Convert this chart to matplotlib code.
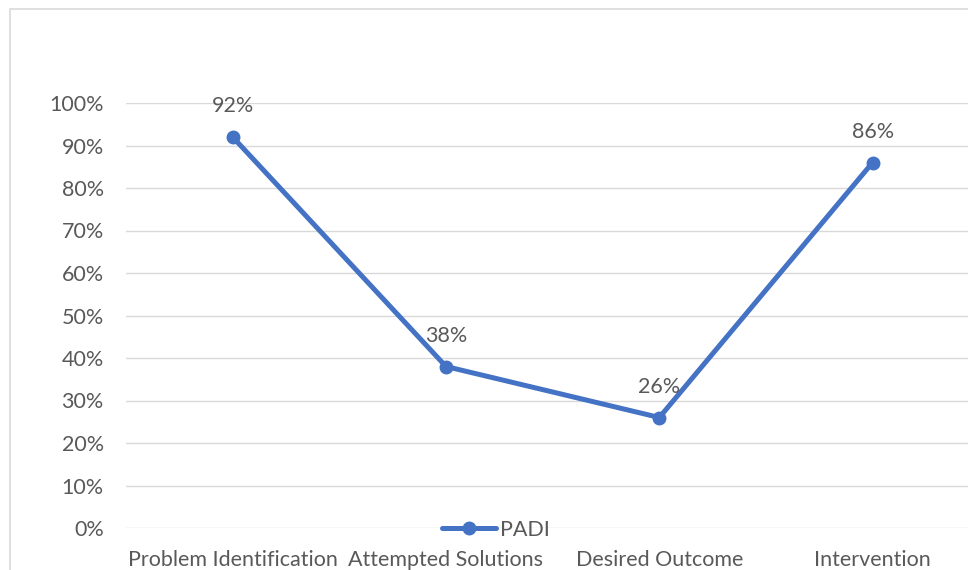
import matplotlib.pyplot as plt
from matplotlib.patches import Rectangle

# PADI scores per stage
stages = ["Problem Identification", "Attempted Solutions", "Desired Outcome", "Intervention"]
padi = [92, 38, 26, 86]
labels = ["92%", "38%", "26%", "86%"]
yticks = [0, 10, 20, 30, 40, 50, 60, 70, 80, 90, 100]

plt.rcParams['font.family'] = ['Lato', 'DejaVu Sans']
grey = "#595959"
blue = "#4472C4"
fs = 15.5

fig = plt.figure(figsize=(9.68, 5.7), dpi=100)

# chart area border
fig.patches.append(Rectangle((10 / 968, -0.1), 1.1, (570 - 9) / 570 + 0.1,
                             transform=fig.transFigure, fill=False,
                             edgecolor="#D9D9D9", linewidth=1.2))

ax = fig.add_axes([126 / 968, 42 / 570, 853.3 / 968, 425 / 570])
x = list(range(len(stages)))
ax.plot(x, padi, color=blue, linewidth=3.6, marker="o", markersize=9,
        label="PADI", solid_capstyle="round", clip_on=False, zorder=3)

for xi, v, t in zip(x, padi, labels):
    ax.annotate(t, (xi, v), xytext=(0, 15), textcoords="offset points",
                ha="center", va="bottom", fontsize=fs, color=grey)

ax.set_xlim(-0.5, 3.5)
ax.set_ylim(0, 100)
ax.set_yticks(yticks)
ax.set_yticklabels([f"{v}%" for v in yticks])
ax.set_xticks(x)
ax.set_xticklabels(stages)
ax.tick_params(axis="both", length=0, labelsize=fs, labelcolor=grey)
ax.tick_params(axis="y", pad=16)
ax.tick_params(axis="x", pad=16)
ax.grid(axis="y", color="#D9D9D9", linewidth=1)
ax.set_axisbelow(True)
for s in ax.spines.values():
    s.set_visible(False)

fig.legend(*ax.get_legend_handles_labels(), loc="center",
           bbox_to_anchor=(496 / 968, 1 - 530 / 570), frameon=False,
           fontsize=fs, labelcolor=grey, handlelength=2.5, handletextpad=0.2,
           borderpad=0, borderaxespad=0)

fig.savefig("out.png", dpi=100)
